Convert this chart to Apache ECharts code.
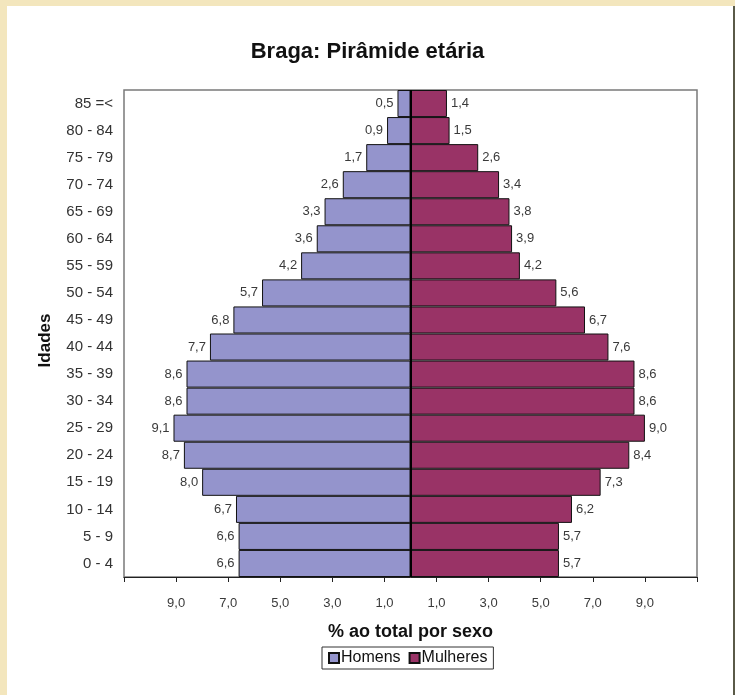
<!DOCTYPE html>
<html>
<head>
<meta charset="utf-8">
<script src="https://cdn.jsdelivr.net/npm/echarts@6/dist/echarts.min.js"></script>
<style>
html,body{margin:0;padding:0;width:735px;height:695px;background:#f3e6bd;overflow:hidden;}
#panel{position:absolute;left:7px;top:6px;width:726px;height:689px;background:#fff;border-right:2px solid #5a5a48;}
#chart{position:absolute;left:-7px;top:-6px;width:735px;height:695px;}
</style>
</head>
<body>
<div id="panel"><div id="chart"></div></div>
<script>
const categories = ['0 - 4','5 - 9','10 - 14','15 - 19','20 - 24','25 - 29','30 - 34','35 - 39','40 - 44','45 - 49','50 - 54','55 - 59','60 - 64','65 - 69','70 - 74','75 - 79','80 - 84','85 =<'];
const homens = [6.6, 6.6, 6.7, 8.0, 8.7, 9.1, 8.6, 8.6, 7.7, 6.8, 5.7, 4.2, 3.6, 3.3, 2.6, 1.7, 0.9, 0.5];
const mulheres = [5.7, 5.7, 6.2, 7.3, 8.4, 9.0, 8.6, 8.6, 7.6, 6.7, 5.6, 4.2, 3.9, 3.8, 3.4, 2.6, 1.5, 1.4];
const fmt = v => Math.abs(v).toFixed(1).replace('.', ',');
const font = '"Liberation Sans", Arial, sans-serif';

const chart = echarts.init(document.getElementById('chart'));
chart.setOption({
  animation: false,
  textStyle: {fontFamily: font},
  title: {
    text: 'Braga: Pirâmide etária',
    left: 'center', top: 36,
    textStyle: {fontSize: 22, fontWeight: 'bold', color: '#111', fontFamily: font}
  },
  legend: {
    bottom: 26, left: 322,
    itemWidth: 10, itemHeight: 10, itemGap: 8,
    borderColor: '#333', borderWidth: 1, padding: [3, 6],
    textStyle: {fontSize: 16, color: '#111', fontFamily: font, padding: [0, 0, 0, -3]},
    data: [{name: 'Homens', icon: 'rect'}, {name: 'Mulheres', icon: 'rect'}]
  },
  grid: {left: 124, right: 38, top: 90, bottom: 118, show: true, borderColor: '#7a7a7a', borderWidth: 1.5, backgroundColor: '#fff'},
  xAxis: {
    type: 'value', min: -11, max: 11, interval: 2,
    name: '% ao total por sexo', nameLocation: 'middle', nameGap: 46,
    nameTextStyle: {fontSize: 18, fontWeight: 'bold', color: '#111', fontFamily: font},
    axisLine: {show: true, lineStyle: {color: '#222', width: 1}},
    axisTick: {show: true, length: 5, lineStyle: {color: '#222'}},
    axisLabel: {
      fontSize: 13, color: '#3a3a3a', margin: 20, fontFamily: font,
      formatter: v => (Math.abs(v) > 10 ? '' : fmt(v))
    },
    splitLine: {show: false}
  },
  yAxis: {
    type: 'category', data: categories,
    name: 'Idades', nameLocation: 'middle', nameGap: 70, nameRotate: 90,
    nameTextStyle: {fontSize: 17, fontWeight: 'bold', color: '#111', fontFamily: font, padding: [0, 0, 0, -14]},
    axisLine: {show: false}, axisTick: {show: false},
    axisLabel: {fontSize: 15, color: '#333', margin: 11, fontFamily: font}
  },
  series: [
    {
      name: 'Homens', type: 'bar', barWidth: '100%', barGap: '-100%',
      data: homens.map(v => -v),
      itemStyle: {color: '#9494cc', borderColor: '#111', borderWidth: 1},
      label: {show: true, position: 'left', distance: 4, fontSize: 13, color: '#3a3a3a', formatter: p => fmt(p.value)}
    },
    {
      name: 'Mulheres', type: 'bar', barWidth: '100%', barGap: '-100%',
      data: mulheres,
      itemStyle: {color: '#993366', borderColor: '#111', borderWidth: 1},
      label: {show: true, position: 'right', distance: 4, fontSize: 13, color: '#3a3a3a', formatter: p => fmt(p.value)},
      markLine: {silent: true, symbol: 'none', label: {show: false}, lineStyle: {color: '#000', width: 2, type: 'solid'}, data: [{xAxis: 0}]}
    }
  ]
});
</script>
</body>
</html>
